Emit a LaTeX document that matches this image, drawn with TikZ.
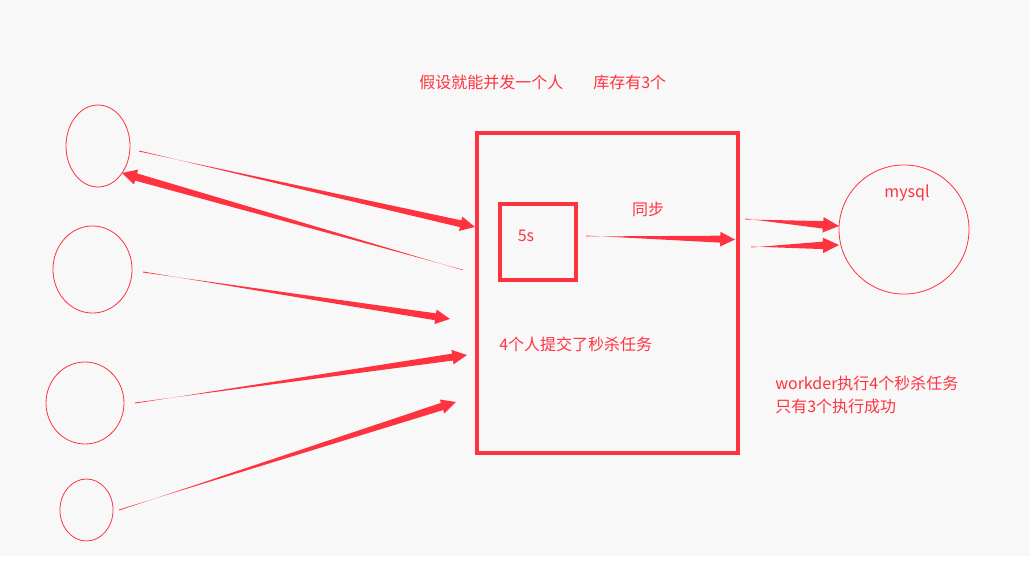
\documentclass[tikz,border=0pt]{standalone}
\usepackage{fontspec}
\setmainfont{Noto Sans CJK SC}
\usetikzlibrary{calc,shapes.geometric}
\definecolor{rd}{HTML}{FF3340}
\definecolor{bg}{HTML}{F8F8F8}
\tikzset{
  person/.style={draw=rd, line width=0.6pt, ellipse, inner sep=0pt},
  lbl/.style={text=rd, font=\fontsize{12}{14}\selectfont, inner sep=0pt},
  frame/.style={draw=rd, line width=2.6pt},
}
% tapered arrow: #1 start, #2 tip, #3 start half-width, #4 shaft half-width, #5 head half-width, #6 head length (pt)
\newcommand{\taperarrow}[6]{%
  \fill[rd] let \p1=($(#2)!#6pt!(#1)$) in
    ($(#1)!#3pt!90:(#2)$) -- ($(\p1)!#4pt!-90:(#2)$) -- ($(\p1)!#5pt!-90:(#2)$) -- (#2)
    -- ($(\p1)!#5pt!90:(#2)$) -- ($(\p1)!#4pt!90:(#2)$) -- ($(#1)!#3pt!-90:(#2)$) -- cycle;}
\begin{document}
\begin{tikzpicture}[x=0.75pt,y=-0.75pt]
\useasboundingbox (0,0) rectangle (1036,561);
\fill[white] (0,0) rectangle (1036,561);
\fill[bg] (0,0) rectangle (1030,556);

% people
\node[person, minimum width=48pt, minimum height=61.5pt] (p1) at (98,146) {};
\node[person, minimum width=59.3pt, minimum height=65.3pt] (p2) at (92.5,269.5) {};
\node[person, minimum width=58.5pt, minimum height=61.5pt] (p3) at (85,403) {};
\node[person, minimum width=39.8pt, minimum height=46.5pt] (p4) at (86.5,510) {};
\node[person, minimum width=97.5pt, minimum height=96.8pt] (db) at (904,229.5) {};

% boxes
\draw[frame] (477,133) rectangle (738,453);
\draw[frame] (500,204) rectangle (576,280);

% texts
\node[lbl, anchor=west] (t1) at (419,82) {假设就能并发一个人};
\node[lbl, anchor=west] (t2) at (593,82) {库存有3个};
\node[lbl] (t5s) at (526,236) {5s};
\node[lbl] (tsync) at (648,209) {同步};
\node[lbl, anchor=west] (tsub) at (499,344) {4个人提交了秒杀任务};
\node[lbl] (tmy) at (907,193) {mysql};
\node[lbl, anchor=west] (tw1) at (775,383) {workder执行4个秒杀任务};
\node[lbl, anchor=west] (tw2) at (775,406) {只有3个执行成功};

% connector endpoints
\coordinate (a1s) at (139,151);
\coordinate (a1e) at (475,227);
\coordinate (a2s) at (463,270);
\coordinate (a2e) at (122,173);
\coordinate (a3s) at (143,272);
\coordinate (a3e) at (450,319);
\coordinate (a4s) at (135,403);
\coordinate (a4e) at (467,355);
\coordinate (a5s) at (119,510);
\coordinate (a5e) at (456,402);
\coordinate (a6s) at (586,236);
\coordinate (a6e) at (735,239.5);
\coordinate (a7s) at (745,219);
\coordinate (a7e) at (839,226);
\coordinate (a8s) at (751,247);
\coordinate (a8e) at (839,245);

\taperarrow{a1s}{a1e}{0.35}{2.6}{5.5}{11}
\taperarrow{a2s}{a2e}{0.2}{2.8}{5.8}{11}
\taperarrow{a3s}{a3e}{0.35}{2.6}{5.5}{11}
\taperarrow{a4s}{a4e}{0.35}{2.6}{5.5}{11}
\taperarrow{a5s}{a5e}{0.35}{2.8}{5.5}{11}
\taperarrow{a6s}{a6e}{0.35}{2.6}{5.5}{11}
\taperarrow{a7s}{a7e}{0.35}{2.8}{5.8}{12}
\taperarrow{a8s}{a8e}{0.35}{2.8}{5.8}{12}
\end{tikzpicture}
\end{document}
